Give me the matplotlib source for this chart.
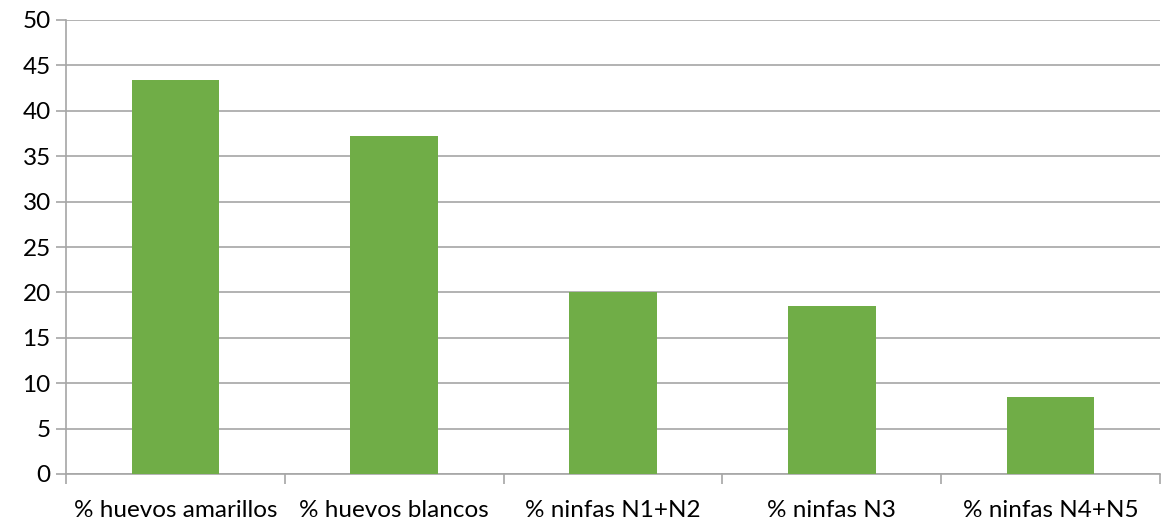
import matplotlib
matplotlib.use("Agg")
import matplotlib.pyplot as plt

categories = ["% huevos amarillos", "% huevos blancos", "% ninfas N1+N2", "% ninfas N3", "% ninfas N4+N5"]
values = [43.4, 37.2, 20.0, 18.5, 8.5]
yticks = [0, 5, 10, 15, 20, 25, 30, 35, 40, 45, 50]

plt.rcParams['font.family'] = ['Lato', 'DejaVu Sans']

fig = plt.figure(figsize=(11.61, 5.28), dpi=100)
ax = fig.add_axes([66/1161, 54/528, 1094/1161, 454/528])

x = list(range(len(categories)))
ax.bar(x, values, width=0.4, color="#70AD47", zorder=3)

ax.set_xlim(-0.5, len(categories) - 0.5)
ax.set_ylim(0, 50)
ax.set_yticks(yticks)
ax.set_yticklabels([str(t) for t in yticks], fontsize=17.5, color="#000000")
ax.yaxis.grid(True, color="#a6a6a6", linewidth=1.2, zorder=0)
ax.set_axisbelow(True)

ax.set_xticks(x)
ax.set_xticklabels(categories, fontsize=17.5)
ax.set_xticks([i - 0.5 for i in range(len(categories) + 1)], minor=True)
ax.tick_params(axis='x', which='major', length=0, pad=19)
ax.tick_params(axis='x', which='minor', length=7, width=1.2, color="#a6a6a6")
ax.tick_params(axis='y', length=7, width=1.2, color="#a6a6a6", pad=4)

for s in ["top", "right"]:
    ax.spines[s].set_visible(False)
for s in ["left", "bottom"]:
    ax.spines[s].set_color("#a6a6a6")
    ax.spines[s].set_linewidth(1.2)

fig.savefig("out.png", dpi=100)
